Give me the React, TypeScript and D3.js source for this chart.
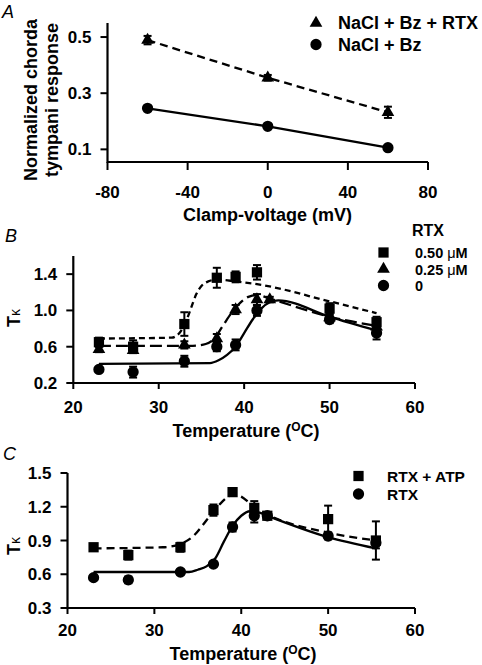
import React from "react";
import * as d3 from "d3";

// ---------- Panel A data ----------
const voltsA = [-60, 0, 60];
const rtxA = [0.489, 0.355, 0.232];
const rtxAErr = [0.015, 0.01, 0.02];
const bzA = [0.246, 0.182, 0.106];
const bzAErr = [0.006, 0.006, 0.006];
const xTicksA = [-80, -40, 0, 40, 80];
const yTicksA = [0.1, 0.3, 0.5];

// ---------- Panel B data ----------
const tB050 = [23, 27, 33, 36.8, 39, 41.5, 50, 55.5];
const vB050 = [0.65, 0.6, 0.85, 1.36, 1.37, 1.42, 1.02, 0.87];
const eB050 = [0.05, 0.07, 0.13, 0.11, 0.06, 0.08, 0.06, 0.06];
const tB025 = [23, 27, 33, 36.8, 39, 41.5, 43, 50, 55.5];
const vB025 = [0.57, 0.56, 0.62, 0.69, 1.01, 1.12, 1.12, 0.92, 0.82];
const eB025 = [0.03, 0.03, 0.04, 0.05, 0.05, 0.06, 0.03, 0.04, 0.05];
const tB0 = [23, 27, 33, 36.8, 39, 41.5, 50, 55.5];
const vB0 = [0.35, 0.32, 0.44, 0.6, 0.62, 1.0, 0.9, 0.75];
const eB0 = [0.02, 0.06, 0.06, 0.05, 0.06, 0.06, 0.04, 0.07];
// fitted curves
const fitB050T = [23, 31.5, 32.5, 33.2, 33.8, 34.4, 35, 35.8, 36.8, 39, 41.5, 50, 55.5];
const fitB050V = [0.69, 0.7, 0.76, 0.88, 1.03, 1.18, 1.27, 1.32, 1.34, 1.32, 1.29, 1.1, 0.97];
const fitB025T = [23, 34, 35.5, 36.5, 37.5, 38.5, 39.5, 40.5, 41.5, 43, 50, 55.5];
const fitB025V = [0.61, 0.61, 0.63, 0.69, 0.83, 0.97, 1.08, 1.15, 1.17, 1.13, 0.93, 0.83];
const fitB0T = [23, 36, 37, 38, 39, 40, 41, 42, 43, 44, 50, 55.5];
const fitB0V = [0.41, 0.42, 0.45, 0.51, 0.6, 0.75, 0.9, 1.02, 1.09, 1.11, 0.93, 0.78];
const xTicksB = [20, 30, 40, 50, 60];
const yTicksB = [0.2, 0.6, 1.0, 1.4];
const legendB = ["0.50 ", "0.25 ", "0"];

// ---------- Panel C data ----------
const tC = [23, 27, 33, 36.8, 39, 41.5, 43, 50, 55.5];
const vCatp = [0.84, 0.77, 0.84, 1.17, 1.33, 1.19, 1.12, 1.09, 0.9];
const eCatp = [0.03, 0.04, 0.04, 0.05, 0.03, 0.06, 0.03, 0.12, 0.17];
const vCrtx = [0.57, 0.55, 0.62, 0.69, 1.02, 1.12, 1.12, 0.94, 0.88];
const eCrtx = [0.02, 0.03, 0.02, 0.02, 0.04, 0.06, 0.02, 0.03, 0.05];
const fitCatpT = [23, 31, 33, 34.5, 35.5, 36.5, 37.5, 38.5, 39.2, 40, 41, 42, 43, 50, 55.5];
const fitCatpV = [0.83, 0.84, 0.87, 0.94, 1.03, 1.13, 1.22, 1.29, 1.31, 1.29, 1.23, 1.17, 1.13, 0.97, 0.9];
const fitCrtxT = [23, 34, 35, 36, 37, 38, 39, 40, 41, 42, 43, 50, 55.5];
const fitCrtxV = [0.62, 0.62, 0.64, 0.67, 0.74, 0.89, 1.03, 1.12, 1.16, 1.15, 1.12, 0.93, 0.83];
const xTicksC = [20, 30, 40, 50, 60];
const yTicksC = [0.3, 0.6, 0.9, 1.2, 1.5];

const FONT = "'Liberation Sans', Arial, Helvetica, sans-serif";

type Scale = d3.ScaleLinear<number, number>;

function Marker({ shape, x, y }: { shape: string; x: number; y: number }) {
  let type = d3.symbolCircle;
  let size = 100;
  if (shape === "square") { type = d3.symbolSquare; size = 105; }
  if (shape === "triangle") { type = d3.symbolTriangle; size = 70; }
  const path = d3.symbol().type(type).size(size)();
  return <path d={path || ""} transform={`translate(${x},${y})`} fill="#000" />;
}

function Series({ xs, ys, es, sx, sy, shape }: { xs: number[]; ys: number[]; es: number[]; sx: Scale; sy: Scale; shape: string }) {
  return (
    <g>
      {xs.map((t, i) => {
        const cx = sx(t);
        const top = sy(ys[i] + es[i]);
        const bot = sy(ys[i] - es[i]);
        return (
          <g key={"e" + i} stroke="#000" strokeWidth={2}>
            <line x1={cx} x2={cx} y1={top} y2={bot} />
            <line x1={cx - 4} x2={cx + 4} y1={top} y2={top} />
            <line x1={cx - 4} x2={cx + 4} y1={bot} y2={bot} />
          </g>
        );
      })}
      {xs.map((t, i) => (
        <Marker key={"m" + i} shape={shape} x={sx(t)} y={sy(ys[i])} />
      ))}
    </g>
  );
}

function Curve({ xs, ys, sx, sy, dash, linear }: { xs: number[]; ys: number[]; sx: Scale; sy: Scale; dash?: string; linear?: boolean }) {
  const line = d3
    .line<number>()
    .x((_, i) => sx(xs[i]))
    .y((v) => sy(v))
    .curve(linear ? d3.curveLinear : d3.curveMonotoneX);
  return <path d={line(ys) || ""} fill="none" stroke="#000" strokeWidth={2.3} strokeDasharray={dash} />;
}

function Axes({ sx, sy, xt, yt, fmtX, fmtY, xLabelY, xtLen }: { sx: Scale; sy: Scale; xt: number[]; yt: number[]; fmtX: (v: number) => string; fmtY: (v: number) => string; xLabelY: number; xtLen: number }) {
  const [x0, x1] = sx.range();
  const [y0, y1] = sy.range();
  return (
    <g fontFamily={FONT} fontWeight="bold" fontSize={17} fill="#000">
      <line x1={x0} x2={x1} y1={y0} y2={y0} stroke="#000" strokeWidth={2.2} />
      <line x1={x0} x2={x0} y1={y0 + 1} y2={y1} stroke="#000" strokeWidth={2.2} />
      {xt.map((v) => (
        <g key={"x" + v}>
          <line x1={sx(v)} x2={sx(v)} y1={y0} y2={y0 + xtLen} stroke="#000" strokeWidth={2} />
          <text x={sx(v)} y={xLabelY} textAnchor="middle">{fmtX(v)}</text>
        </g>
      ))}
      {yt.map((v) => (
        <g key={"y" + v}>
          <line x1={x0 - 7} x2={x0} y1={sy(v)} y2={sy(v)} stroke="#000" strokeWidth={2} />
          <text x={x0 - 16} y={sy(v) + 6} textAnchor="end">{fmtY(v)}</text>
        </g>
      ))}
    </g>
  );
}

function TempTitle({ x, y }: { x: number; y: number }) {
  return (
    <text x={x} y={y} textAnchor="middle" fontFamily={FONT} fontWeight="bold" fontSize={18}>
      Temperature (<tspan fontSize={12} dy={-6}>O</tspan><tspan dy={6}>C)</tspan>
    </text>
  );
}

function TkTitle({ x, y }: { x: number; y: number }) {
  return (
    <text transform={`translate(${x},${y}) rotate(-90)`} textAnchor="middle" fontFamily={FONT} fontSize={18}>
      <tspan fontWeight="bold">T</tspan><tspan fontSize={14}>κ</tspan>
    </text>
  );
}

export default function App() {
  // Panel A
  const sxA = d3.scaleLinear().domain([-80, 80]).range([107.5, 428]);
  const syA = d3.scaleLinear().domain([0.055, 0.55]).range([162, 23]);
  // Panel B
  const sxB = d3.scaleLinear().domain([20, 60]).range([73.3, 415]);
  const syB = d3.scaleLinear().domain([0.2, 1.6]).range([383, 256]);
  // Panel C
  const sxC = d3.scaleLinear().domain([20, 60]).range([67.5, 415]);
  const syC = d3.scaleLinear().domain([0.3, 1.5]).range([608, 473]);

  const f1 = d3.format(".1f");
  const fInt = (v: number) => String(v);
  const legendText = { fontFamily: FONT, fontWeight: "bold" as const, fontSize: 18 };
  const legendShapesB = ["square", "triangle", "circle"];

  return (
    <svg width={482} height={665} style={{ position: "absolute", left: 0, top: 0, background: "#fff" }}>
      <rect width={482} height={665} fill="#fff" />

      {/* ---------------- Panel A ---------------- */}
      <text x={2} y={18} fontFamily={FONT} fontStyle="italic" fontSize={18}>A</text>
      <Axes sx={sxA} sy={syA} xt={xTicksA} yt={yTicksA} fmtX={fInt} fmtY={f1} xLabelY={198} xtLen={8} />
      <text transform="translate(37,100) rotate(-90)" textAnchor="middle" fontFamily={FONT} fontWeight="bold" fontSize={18}>Normalized chorda</text>
      <text transform="translate(58,100) rotate(-90)" textAnchor="middle" fontFamily={FONT} fontWeight="bold" fontSize={18}>tympani response</text>
      <text x={267.5} y={221} textAnchor="middle" fontFamily={FONT} fontWeight="bold" fontSize={18}>Clamp-voltage (mV)</text>
      <Curve xs={voltsA} ys={rtxA} sx={sxA} sy={syA} dash="8,5" linear />
      <Curve xs={voltsA} ys={bzA} sx={sxA} sy={syA} linear />
      <Series xs={voltsA} ys={rtxA} es={rtxAErr} sx={sxA} sy={syA} shape="triangle" />
      <Series xs={voltsA} ys={bzA} es={bzAErr} sx={sxA} sy={syA} shape="circle" />
      <Marker shape="triangle" x={316} y={23} />
      <text x={338} y={29} {...legendText}>NaCl + Bz + RTX</text>
      <Marker shape="circle" x={316} y={44.5} />
      <text x={338} y={51} {...legendText}>NaCl + Bz</text>

      {/* ---------------- Panel B ---------------- */}
      <text x={5} y={242} fontFamily={FONT} fontStyle="italic" fontSize={18}>B</text>
      <Axes sx={sxB} sy={syB} xt={xTicksB} yt={yTicksB} fmtX={fInt} fmtY={f1} xLabelY={413} xtLen={6} />
      <TkTitle x={20} y={318} />
      <TempTitle x={246} y={437} />
      <Curve xs={fitB050T} ys={fitB050V} sx={sxB} sy={syB} dash="6,4" />
      <Curve xs={fitB025T} ys={fitB025V} sx={sxB} sy={syB} dash="12,5" />
      <Curve xs={fitB0T} ys={fitB0V} sx={sxB} sy={syB} />
      <Series xs={tB050} ys={vB050} es={eB050} sx={sxB} sy={syB} shape="square" />
      <Series xs={tB025} ys={vB025} es={eB025} sx={sxB} sy={syB} shape="triangle" />
      <Series xs={tB0} ys={vB0} es={eB0} sx={sxB} sy={syB} shape="circle" />
      <text x={412} y={236} fontFamily={FONT} fontWeight="bold" fontSize={16}>RTX</text>
      {legendB.map((lab, i) => (
        <g key={"lb" + i}>
          <Marker shape={legendShapesB[i]} x={383.5} y={252.5 + i * 16.5} />
          <text x={415} y={258 + i * 16.5} fontFamily={FONT} fontWeight="bold" fontSize={14.5}>
            {lab}
            {i < 2 ? <tspan fontWeight="normal">μ</tspan> : null}
            {i < 2 ? "M" : null}
          </text>
        </g>
      ))}

      {/* ---------------- Panel C ---------------- */}
      <text x={3} y={460} fontFamily={FONT} fontStyle="italic" fontSize={18}>C</text>
      <Axes sx={sxC} sy={syC} xt={xTicksC} yt={yTicksC} fmtX={fInt} fmtY={f1} xLabelY={636} xtLen={6} />
      <TkTitle x={20} y={546} />
      <TempTitle x={243} y={660} />
      <Curve xs={fitCatpT} ys={fitCatpV} sx={sxC} sy={syC} dash="8,5" />
      <Curve xs={fitCrtxT} ys={fitCrtxV} sx={sxC} sy={syC} />
      <Series xs={tC} ys={vCatp} es={eCatp} sx={sxC} sy={syC} shape="square" />
      <Series xs={tC} ys={vCrtx} es={eCrtx} sx={sxC} sy={syC} shape="circle" />
      <Marker shape="square" x={358.5} y={476} />
      <text x={387} y={481.5} fontFamily={FONT} fontWeight="bold" fontSize={15.5}>RTX + ATP</text>
      <Marker shape="circle" x={358.5} y={494} />
      <text x={387} y={499.5} fontFamily={FONT} fontWeight="bold" fontSize={15.5}>RTX</text>
    </svg>
  );
}
